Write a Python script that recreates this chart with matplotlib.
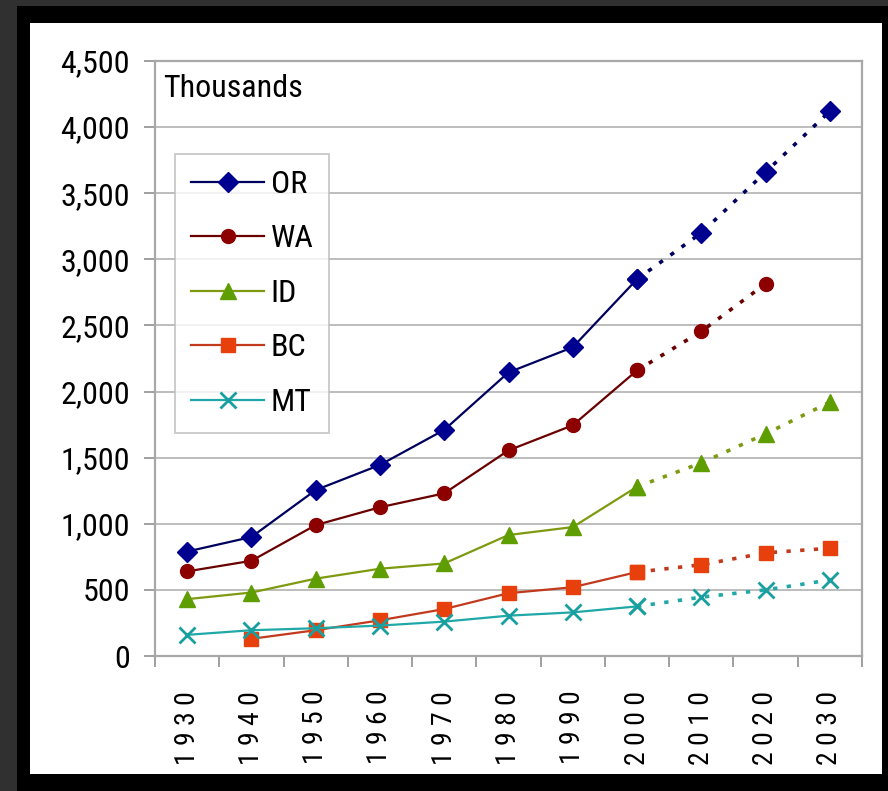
import numpy as np
import matplotlib
matplotlib.use("Agg")
import matplotlib.pyplot as plt
from matplotlib.patches import Rectangle
from matplotlib.ticker import FuncFormatter

plt.rcParams['font.family'] = ['Roboto Condensed', 'DejaVu Sans']
plt.rcParams['font.stretch'] = 'condensed'

# population, thousands; values from 2000 on are projections
years = ['1930', '1940', '1950', '1960', '1970', '1980', '1990', '2000', '2010', '2020', '2030']
OR = [790, 900, 1255, 1445, 1710, 2145, 2335, 2850, 3200, 3660, 4120]
WA = [640, 720, 990, 1125, 1230, 1555, 1745, 2160, 2455, 2815, np.nan]
ID = [430, 480, 585, 660, 700, 915, 975, 1280, 1460, 1680, 1920]
BC = [np.nan, 130, 195, 270, 355, 475, 520, 635, 690, 780, 815]
MT = [160, 195, 210, 230, 260, 305, 330, 375, 445, 500, 575]
proj_start = '2000'

series = [
    ('OR', OR, '#00005e', '#000090', 'D', 10),
    ('WA', WA, '#6a0000', '#8c0000', 'o', 10),
    ('ID', ID, '#7d9a10', '#5f9e00', '^', 11),
    ('BC', BC, '#c23a1e', '#e8400c', 's', 10),
    ('MT', MT, '#20a8a8', '#18a0a0', 'x', 12),
]

fig = plt.figure(figsize=(8.88, 7.91), dpi=100, facecolor='#303030')
# black frame and white panel behind the chart
fig.patches.append(Rectangle((17 / 888, 0), 1, 1 - 6 / 791, transform=fig.transFigure,
                             facecolor='black', edgecolor='none', zorder=-2))
fig.patches.append(Rectangle((30 / 888, 1 - 774 / 791), (882 - 30) / 888, (774 - 23) / 791,
                             transform=fig.transFigure, facecolor='white', edgecolor='none', zorder=-1))

ax = fig.add_axes([155 / 888, 1 - 656 / 791, (862 - 155) / 888, (656 - 61) / 791])
ax.set_facecolor('white')

x = np.arange(len(years))
k = years.index(proj_start)
for name, vals, lc, mc, mk, ms in series:
    v = np.array(vals, dtype=float)
    mew = 2 if mk == 'x' else 1
    ax.plot(x[:k + 1], v[:k + 1], color=lc, lw=1.6, marker=mk, ms=ms,
            markerfacecolor=mc, markeredgecolor=mc, markeredgewidth=mew, label=name, zorder=3)
    ax.plot(x[k:], v[k:], color=lc, lw=2.6, ls=(0, (1.2, 2.6)), marker=mk, ms=ms,
            markerfacecolor=mc, markeredgecolor=mc, markeredgewidth=mew, zorder=3)

ax.set_xlim(-0.5, len(years) - 0.5)
ax.set_ylim(0, 4500)
ax.set_yticks(np.arange(0, 4501, 500))
ax.yaxis.set_major_formatter(FuncFormatter(lambda v, p: f'{int(v):,}'))
ax.grid(axis='y', color='#bdbdbd', lw=1.4)
ax.set_axisbelow(True)

# category ticks between years, labels centred on each year
ax.set_xticks(np.arange(len(years) + 1) - 0.5)
ax.set_xticklabels([])
ax.set_xticks(x, minor=True)
ax.set_xticklabels([' '.join(y) for y in years], minor=True, rotation=90, fontsize=20)
ax.tick_params(axis='x', which='major', length=8, color='#a0a0a0', width=1.4)
ax.tick_params(axis='x', which='minor', length=0, pad=25)
ax.tick_params(axis='y', length=8, color='#a0a0a0', width=1.4, pad=10, labelsize=23)

for s in ax.spines.values():
    s.set_color('#a8a8a8')
    s.set_linewidth(1.6)

ax.text(0.012, 0.978, 'Thousands', transform=ax.transAxes, ha='left', va='top', fontsize=23)

leg = ax.legend(loc='upper left', bbox_to_anchor=(0.028, 0.844), borderaxespad=0,
                fontsize=23, frameon=True, fancybox=False, handlelength=2.3,
                handletextpad=0.2, labelspacing=0.8, borderpad=0.5)
leg.get_frame().set_edgecolor('#c0c0c0')
leg.get_frame().set_linewidth(1.4)

fig.savefig('out.png', dpi=100, facecolor=fig.get_facecolor())
